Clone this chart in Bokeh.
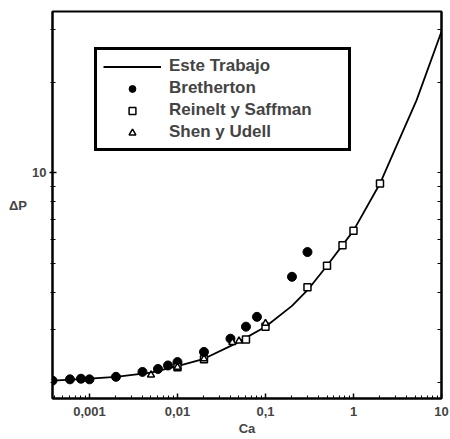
from bokeh.plotting import figure
from bokeh.models import (FixedTicker, LogAxis, Legend, LegendItem)
from bokeh.embed import file_html
from bokeh.resources import INLINE

# ---- data ----
curve_ca = [0.00038, 0.001, 0.002, 0.005, 0.01, 0.02, 0.045, 0.1, 0.2, 0.3, 0.5, 1, 2, 2.9, 5.2, 10]
curve_dp = [2.03, 2.06, 2.09, 2.16, 2.27, 2.40, 2.69, 3.07, 3.60, 4.06, 4.90, 6.41, 9.2, 11.8, 17.4, 29.5]

breth_ca = [0.00038, 0.0006, 0.0008, 0.001, 0.002, 0.004, 0.006, 0.0078, 0.01, 0.02, 0.04, 0.06, 0.08, 0.2, 0.3]
breth_dp = [2.03, 2.05, 2.06, 2.05, 2.09, 2.17, 2.22, 2.28, 2.34, 2.53, 2.80, 3.07, 3.31, 4.50, 5.44]

rs_ca = [0.01, 0.02, 0.06, 0.1, 0.3, 0.5, 0.75, 1, 2]
rs_dp = [2.25, 2.39, 2.78, 3.07, 4.15, 4.90, 5.73, 6.41, 9.2]

su_ca = [0.005, 0.01, 0.02, 0.042, 0.05, 0.1]
su_dp = [2.12, 2.25, 2.40, 2.72, 2.75, 3.15]

x_ticks = [0.001, 0.01, 0.1, 1, 10]
x_tick_labels = ["0,001", "0,01", "0,1", "1", "10"]
y_ticks = [10]
y_tick_labels = ["10"]
y_minor = [2, 3, 4, 5, 6, 7, 8, 9, 20, 30]
x_minor = [m * d for d in [0.0001, 0.001, 0.01, 0.1, 1] for m in range(2, 10)]

series_labels = ["Este Trabajo", "Bretherton", "Reinelt y Saffman", "Shen y Udell"]

FONT = "Liberation Sans"

p = figure(width=450, height=439, x_axis_type="log", y_axis_type="log",
           x_range=(0.00038, 10), y_range=(1.77, 34.4), title=None,
           output_backend="svg", toolbar_location=None,
           min_border_left=52, min_border_right=9, min_border_top=11, min_border_bottom=41)
p.grid.visible = False
p.outline_line_color = "black"
p.outline_line_width = 2
p.background_fill_color = "white"
p.border_fill_color = "white"

line_r = p.line(curve_ca, curve_dp, line_color="black", line_width=1.8)
circ_r = p.scatter(breth_ca, breth_dp, marker="circle", size=9, fill_color="black", line_color="black")
sq_r = p.scatter(rs_ca, rs_dp, marker="square", size=7, fill_color="white", line_color="black", line_width=1.5)
tri_r = p.scatter(su_ca, su_dp, marker="triangle", size=7, fill_color="white", line_color="black", line_width=1.5)

xa = p.xaxis[0]
xa.ticker = FixedTicker(ticks=x_ticks, minor_ticks=x_minor)
xa.major_label_overrides = {t: l for t, l in zip(x_ticks, x_tick_labels)}
xa.axis_label = "Ca"
xa.axis_label_text_font = FONT
xa.axis_label_text_font_style = "bold"
xa.axis_label_text_font_size = "13px"
xa.axis_label_standoff = 2
xa.major_label_text_font = FONT
xa.major_label_text_font_style = "bold"
xa.major_label_text_font_size = "13px"
xa.major_label_standoff = 8
xa.major_tick_in = 5
xa.major_tick_out = 0
xa.minor_tick_in = 3
xa.minor_tick_out = 0
xa.axis_line_width = 2
xa.major_tick_line_width = 1.5

ya = p.yaxis[0]
ya.ticker = FixedTicker(ticks=y_ticks, minor_ticks=y_minor)
ya.major_label_overrides = {t: l for t, l in zip(y_ticks, y_tick_labels)}
ya.axis_label = "ΔP"
ya.axis_label_orientation = "horizontal"
ya.axis_label_text_font = FONT
ya.axis_label_text_font_style = "bold"
ya.axis_label_text_font_size = "13px"
ya.axis_label_standoff = 2
ya.major_label_text_font = FONT
ya.major_label_text_font_style = "bold"
ya.major_label_text_font_size = "13px"
ya.major_label_standoff = 3
ya.major_tick_in = 4
ya.major_tick_out = 3
ya.minor_tick_in = 3
ya.minor_tick_out = 2
ya.axis_line_width = 2
ya.major_tick_line_width = 1.5

ra = LogAxis(ticker=FixedTicker(ticks=[], minor_ticks=y_minor + y_ticks),
             major_label_standoff=0,
             major_tick_in=0, major_tick_out=0, minor_tick_in=4, minor_tick_out=0,
             axis_line_width=2)
p.add_layout(ra, "right")

legend = Legend(items=[
    LegendItem(label=series_labels[0], renderers=[line_r]),
    LegendItem(label=series_labels[1], renderers=[circ_r]),
    LegendItem(label=series_labels[2], renderers=[sq_r]),
    LegendItem(label=series_labels[3], renderers=[tri_r]),
], location=(42, 247))
legend.border_line_color = "black"
legend.border_line_alpha = 1
legend.border_line_width = 3
legend.background_fill_alpha = 1
legend.label_text_font = FONT
legend.label_text_font_style = "bold"
legend.label_text_font_size = "17px"
legend.glyph_width = 58
legend.glyph_height = 17
legend.label_height = 17
legend.label_standoff = 8
legend.label_width = 173
legend.spacing = 2
legend.padding = 6
legend.margin = 0
p.add_layout(legend, "center")

open("out.html", "w").write(file_html(p, INLINE))
